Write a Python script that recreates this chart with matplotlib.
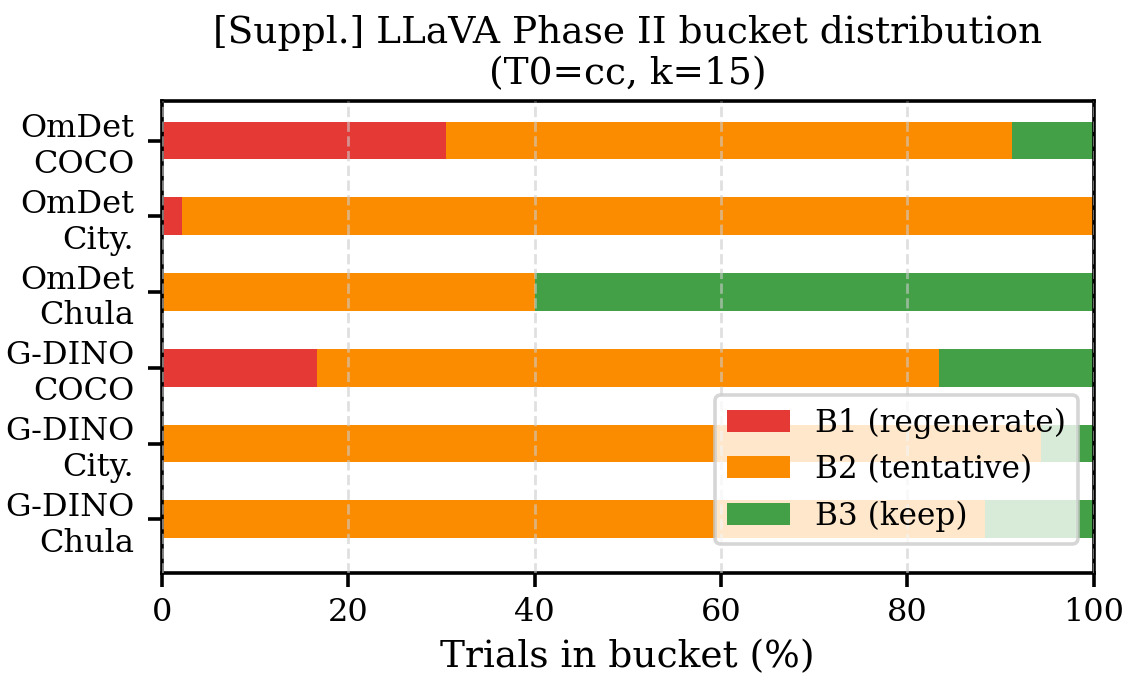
import matplotlib
matplotlib.use("Agg")
import numpy as np
import matplotlib.pyplot as plt

# data (percent of trials per bucket)
labels = ["OmDet\nCOCO", "OmDet\nCity.", "OmDet\nChula",
          "G-DINO\nCOCO", "G-DINO\nCity.", "G-DINO\nChula"]
b1_regenerate = [30.5, 2.2, 0.0, 16.6, 0.0, 0.0]
b2_tentative = [60.8, 97.8, 40.1, 66.8, 94.4, 88.3]
b3_keep = [8.7, 0.0, 59.9, 16.6, 5.6, 11.7]

bucketNames = ["B1 (regenerate)", "B2 (tentative)", "B3 (keep)"]
bucketColors = ["#e53935", "#fb8c00", "#43a047"]


def main():
    plt.rcParams['font.family'] = ['DejaVu Serif']

    fig = plt.figure(figsize=(5.66, 3.395), dpi=200)
    ax = fig.add_axes([0.143, 0.156, 0.823, 0.695])

    y = np.arange(len(labels))
    left = np.zeros(len(labels))
    for vals, name, col in zip([b1_regenerate, b2_tentative, b3_keep], bucketNames, bucketColors):
        vals = np.array(vals)
        ax.barh(y, vals, left=left, height=0.5, color=col, label=name, zorder=1)
        left = left + vals

    ax.set_xlim(0, 100)
    ax.set_ylim(5.71, -0.52)
    ax.set_yticks(y)
    ax.set_yticklabels(labels, fontsize=11.5)
    ax.set_xticks([0, 20, 40, 60, 80, 100])
    ax.tick_params(axis='x', labelsize=11.5, length=5, width=1.3)
    ax.tick_params(axis='y', length=5, width=1.3, pad=5)
    ax.set_axisbelow(False)
    ax.grid(axis='x', linestyle='--', color='#cccccc', alpha=0.6, linewidth=1.0, zorder=2)
    for s in ax.spines.values():
        s.set_linewidth(1.3)

    ax.set_xlabel("Trials in bucket (%)", fontsize=13.5)
    ax.set_title("[Suppl.] LLaVA Phase II bucket distribution\n(T0=cc, k=15)", fontsize=13.5)

    leg = ax.legend(loc='lower right', bbox_to_anchor=(1.0, 0.028), fontsize=11.2,
                    framealpha=0.8, borderaxespad=0.5)
    leg.get_frame().set_edgecolor('#cccccc')
    leg.get_frame().set_linewidth(1.3)

    fig.savefig("out.png", dpi=200)


if __name__ == '__main__':
    main()
